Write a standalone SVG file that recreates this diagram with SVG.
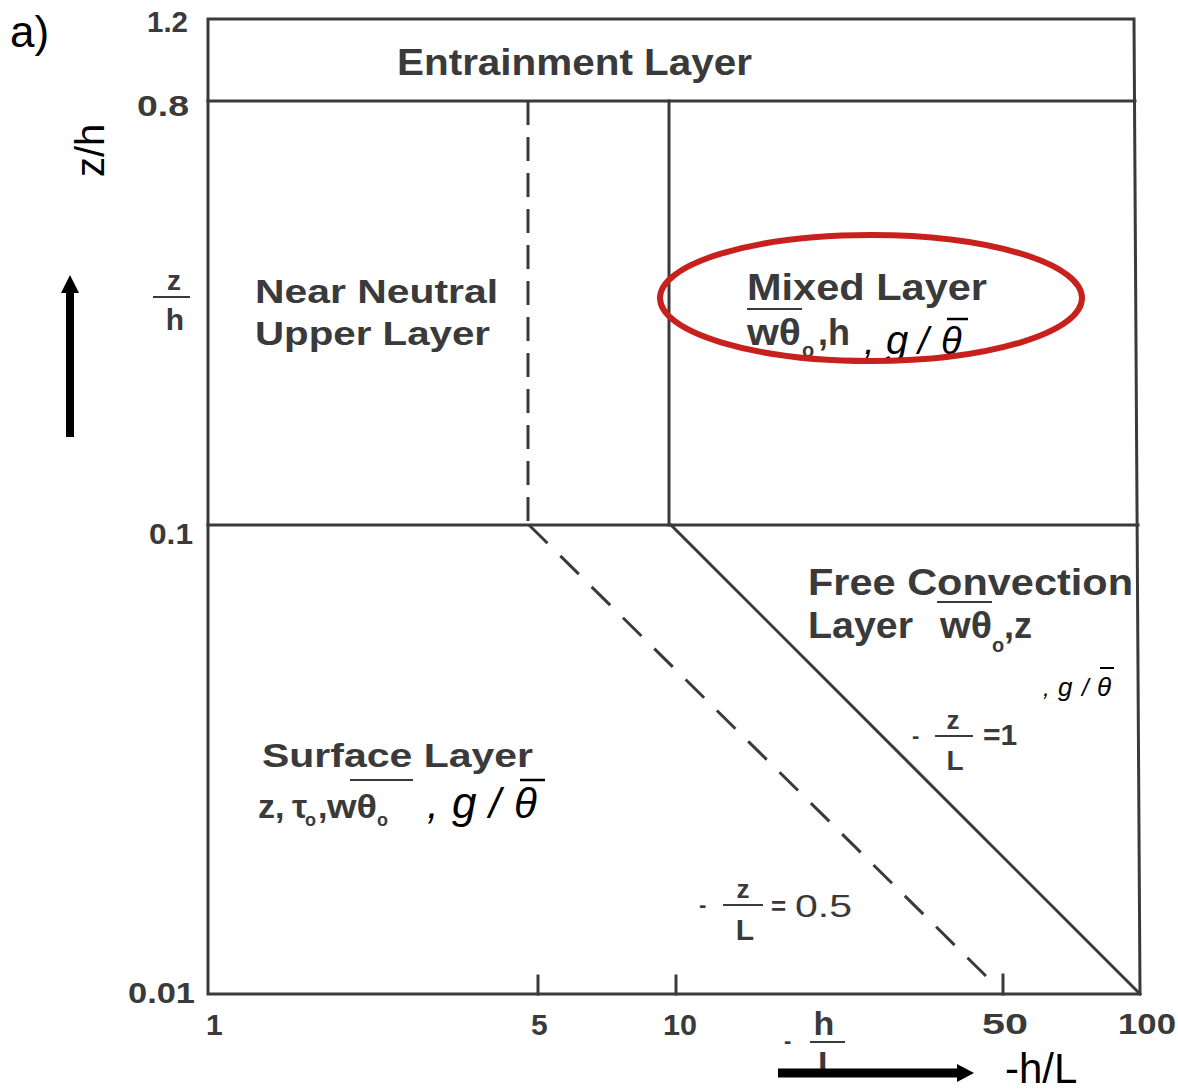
<svg xmlns="http://www.w3.org/2000/svg" width="1178" height="1092" viewBox="0 0 1178 1092">
<defs>
<style>
.ln{stroke:#3a3a3a;stroke-width:3;fill:none;stroke-linecap:square}
.dash1{stroke:#3a3a3a;stroke-width:3;fill:none;stroke-dasharray:24 12}
.dash2{stroke:#3a3a3a;stroke-width:3;fill:none;stroke-dasharray:26 18}
.fl{stroke:#3a3a3a;stroke-width:2;fill:none}
.sc{font-family:"Liberation Sans",Arial,sans-serif;font-weight:bold;fill:#3a3a3a}
.scn{font-family:"Liberation Sans",Arial,sans-serif;fill:#3a3a3a}
.it{font-family:"Liberation Sans",Arial,sans-serif;font-style:italic;fill:#000}
.cal{font-family:"Liberation Sans",Arial,sans-serif;fill:#000}
.ov{stroke:#000;stroke-width:2.5}
</style>
</defs>
<rect width="1178" height="1092" fill="#ffffff"/>

<g id="frame">
<path class="ln" d="M208,19 L1134,19 L1140,994 L208,994 Z"/>
<line class="ln" x1="208" y1="101" x2="1135" y2="101"/>
<line class="ln" x1="208" y1="525" x2="1138" y2="525"/>
<line class="ln" x1="538" y1="976" x2="538" y2="994"/>
<line class="ln" x1="676" y1="976" x2="676" y2="994"/>
<line class="ln" x1="1003" y1="975" x2="1003" y2="994"/>
</g>

<g id="connectors">
<line class="dash1" x1="528" y1="101" x2="528" y2="525"/>
<line class="ln" x1="669" y1="101" x2="669" y2="525"/>
<line class="dash2" x1="529" y1="525" x2="988" y2="978"/>
<line class="ln" x1="671" y1="525" x2="1140" y2="994"/>
</g>

<g id="axis-labels">
<text class="sc" x="147" y="32" font-size="30" textLength="41" lengthAdjust="spacingAndGlyphs">1.2</text>
<text class="sc" x="137" y="116" font-size="30" textLength="52" lengthAdjust="spacingAndGlyphs">0.8</text>
<text class="sc" x="149" y="544" font-size="30" textLength="44" lengthAdjust="spacingAndGlyphs">0.1</text>
<text class="sc" x="128" y="1003" font-size="30" textLength="67" lengthAdjust="spacingAndGlyphs">0.01</text>
<text class="sc" x="206" y="1035" font-size="30">1</text>
<text class="sc" x="531" y="1035" font-size="30">5</text>
<text class="sc" x="663" y="1035" font-size="30" textLength="34" lengthAdjust="spacingAndGlyphs">10</text>
<text class="sc" x="982" y="1034" font-size="30" textLength="46" lengthAdjust="spacingAndGlyphs">50</text>
<text class="sc" x="1118" y="1034" font-size="30" textLength="58" lengthAdjust="spacingAndGlyphs">100</text>
</g>

<g id="a-label"><text class="cal" x="10" y="47" font-size="44">a)</text></g>

<g id="zh-axis">
<text class="cal" font-size="40" transform="translate(104,177) rotate(-90)">z/h</text>
<line x1="70" y1="437" x2="70" y2="290" stroke="#000" stroke-width="8"/>
<polygon points="61,293 70,275 79,293" fill="#000"/>
<text class="sc" x="174" y="290" font-size="28" text-anchor="middle">z</text>
<line class="fl" x1="153" y1="297" x2="190" y2="297"/>
<text class="sc" x="175" y="330" font-size="30" text-anchor="middle">h</text>
</g>

<g id="hl-axis">
<text class="sc" x="784" y="1048" font-size="22">-</text>
<text class="sc" x="824" y="1035" font-size="34" text-anchor="middle">h</text>
<line class="fl" x1="810" y1="1042" x2="845" y2="1042"/>
<text class="sc" x="818" y="1075" font-size="34">L</text>
<line x1="778" y1="1073" x2="960" y2="1073" stroke="#000" stroke-width="9"/>
<polygon points="957,1064 974,1073 957,1082" fill="#000"/>
<text class="cal" x="1005" y="1083" font-size="42">-h/L</text>
</g>

<g id="entrainment">
<text class="sc" x="397" y="75" font-size="36" textLength="355" lengthAdjust="spacingAndGlyphs">Entrainment Layer</text>
</g>

<g id="near-neutral">
<text class="sc" x="255" y="303" font-size="34" textLength="243" lengthAdjust="spacingAndGlyphs">Near Neutral</text>
<text class="sc" x="255" y="345" font-size="34" textLength="235" lengthAdjust="spacingAndGlyphs">Upper Layer</text>
</g>

<g id="mixed-layer">
<text class="sc" x="747" y="300" font-size="36" textLength="240" lengthAdjust="spacingAndGlyphs">Mixed Layer</text>
<line class="fl" x1="747" y1="309" x2="802" y2="309"/>
<text class="sc" x="747" y="345" font-size="36" textLength="54" lengthAdjust="spacingAndGlyphs">wθ</text>
<text class="sc" x="802" y="357" font-size="20">o</text>
<text class="sc" x="818" y="345" font-size="36">,h</text>
<text class="it" x="864" y="354" font-size="38">,</text>
<text class="it" x="886" y="354" font-size="40">g</text>
<text class="it" x="918" y="354" font-size="38">/</text>
<text class="it" x="941" y="354" font-size="38">θ</text>
<line class="ov" x1="947" y1="319" x2="968" y2="319"/>
<ellipse cx="871" cy="298" rx="211" ry="63" fill="none" stroke="#c8201c" stroke-width="6"/>
</g>

<g id="free-convection">
<text class="sc" x="808" y="595" font-size="36" textLength="325" lengthAdjust="spacingAndGlyphs">Free Convection</text>
<text class="sc" x="808" y="638" font-size="36" textLength="105" lengthAdjust="spacingAndGlyphs">Layer</text>
<line class="fl" x1="937" y1="602" x2="992" y2="602"/>
<text class="sc" x="940" y="638" font-size="36" textLength="52" lengthAdjust="spacingAndGlyphs">wθ</text>
<text class="sc" x="992" y="652" font-size="20">o</text>
<text class="sc" x="1004" y="638" font-size="36">,z</text>
<text class="it" x="1043" y="696" font-size="24">,</text>
<text class="it" x="1058" y="696" font-size="26">g</text>
<text class="it" x="1082" y="696" font-size="24">/</text>
<text class="it" x="1097" y="696" font-size="26">θ</text>
<line x1="1100" y1="668" x2="1114" y2="668" stroke="#000" stroke-width="2"/>
</g>

<g id="surface-layer">
<text class="sc" x="262" y="767" font-size="34" textLength="271" lengthAdjust="spacingAndGlyphs">Surface Layer</text>
<text class="sc" x="258" y="818" font-size="34">z,</text>
<text class="sc" x="292" y="818" font-size="34">τ</text>
<text class="sc" x="305" y="826" font-size="18">o</text>
<text class="sc" x="318" y="818" font-size="34">,</text>
<line class="fl" x1="350" y1="780" x2="413" y2="780"/>
<text class="sc" x="327" y="818" font-size="34" textLength="50" lengthAdjust="spacingAndGlyphs">wθ</text>
<text class="sc" x="377" y="826" font-size="18">o</text>
<text class="it" x="427" y="818" font-size="42">,</text>
<text class="it" x="452" y="818" font-size="44">g</text>
<text class="it" x="489" y="818" font-size="42">/</text>
<text class="it" x="514" y="818" font-size="42">θ</text>
<line class="ov" x1="520" y1="780" x2="545" y2="780"/>
</g>

<g id="zl1">
<text class="sc" x="912" y="743" font-size="22">-</text>
<text class="sc" x="953" y="729" font-size="26" text-anchor="middle">z</text>
<line class="fl" x1="935" y1="736" x2="973" y2="736"/>
<text class="sc" x="955" y="770" font-size="28" text-anchor="middle">L</text>
<text class="sc" x="983" y="745" font-size="30">=1</text>
</g>

<g id="zl05">
<text class="sc" x="699" y="912" font-size="22">-</text>
<text class="sc" x="743" y="898" font-size="26" text-anchor="middle">z</text>
<line class="fl" x1="723" y1="905" x2="763" y2="905"/>
<text class="sc" x="745" y="940" font-size="30" text-anchor="middle">L</text>
<text class="sc" x="771" y="915" font-size="26">=</text>
<text class="scn" x="795" y="917" font-size="32" textLength="57" lengthAdjust="spacingAndGlyphs">0.5</text>
</g>
</svg>
